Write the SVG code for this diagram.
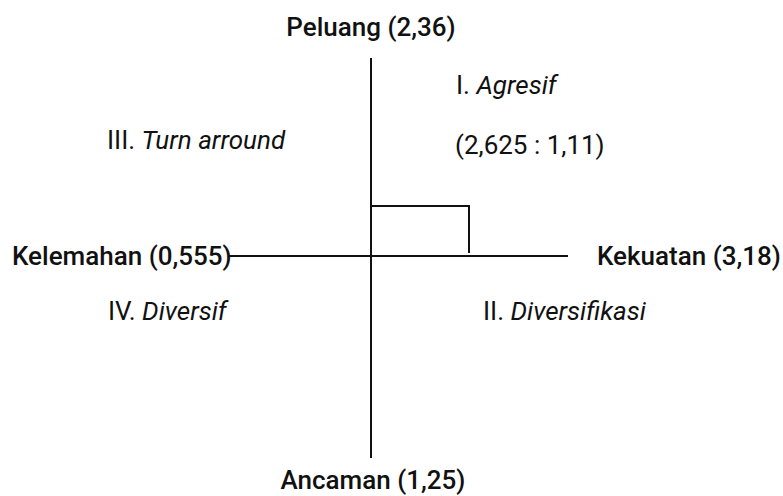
<svg xmlns="http://www.w3.org/2000/svg" width="783" height="496" viewBox="0 0 783 496">
<style>
.lbl{font-family:Roboto,"Liberation Sans",sans-serif;font-weight:500;font-size:26px;fill:#111}
.q{font-family:Roboto,"Liberation Sans",sans-serif;font-size:26px;fill:#111}
.ln{stroke:#111;stroke-width:2;fill:none}
</style>
<rect width="783" height="496" fill="#fff"/>
<g id="connectors">
<line class="ln" x1="371" y1="58" x2="371" y2="458"/>
<line class="ln" x1="228" y1="256" x2="568" y2="256"/>
<polyline class="ln" points="371,206 469,206 469,253"/>
</g>
<g id="peluang"><text class="lbl" x="371" y="36" text-anchor="middle">Peluang (2,36)</text></g>
<g id="kelemahan"><text class="lbl" x="12" y="265">Kelemahan (0,555)</text></g>
<g id="kekuatan"><text class="lbl" x="597" y="265">Kekuatan (3,18)</text></g>
<g id="ancaman"><text class="lbl" x="373" y="489" text-anchor="middle">Ancaman (1,25)</text></g>
<g id="q1"><text class="q" x="456" y="94">I. <tspan font-style="italic">Agresif</tspan></text>
<text class="q" x="455" y="154">(2,625 : 1,11)</text></g>
<g id="q3"><text class="q" x="107" y="149">III. <tspan font-style="italic">Turn arround</tspan></text></g>
<g id="q4"><text class="q" x="108" y="320">IV. <tspan font-style="italic">Diversif</tspan></text></g>
<g id="q2"><text class="q" x="483" y="320">II. <tspan font-style="italic">Diversifikasi</tspan></text></g>
</svg>
